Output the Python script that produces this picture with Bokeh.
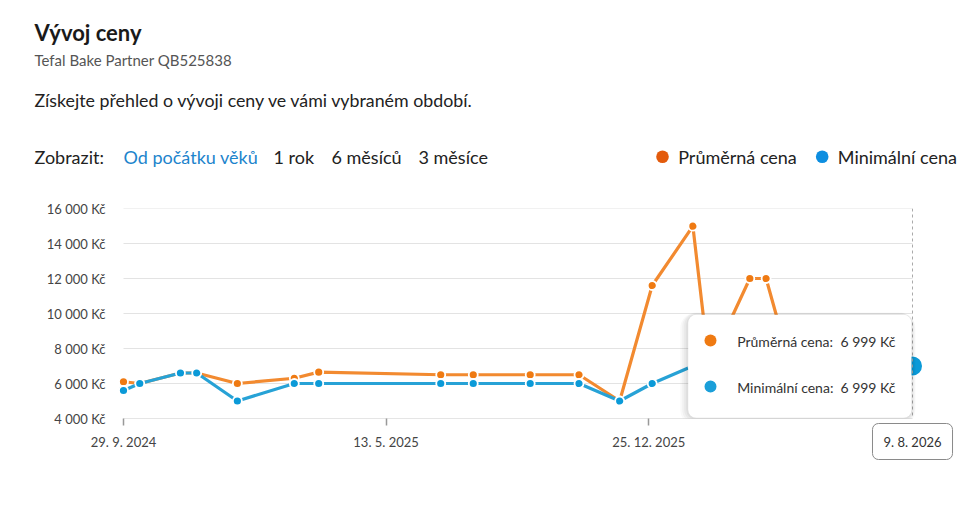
from datetime import timedelta
import pandas as pd
from bokeh.plotting import figure
from bokeh.layouts import column
from bokeh.core.properties import value
from bokeh.models import (Range1d, FixedTicker, CustomJSTickFormatter, Label,
                          BoxAnnotation, Span)
from bokeh.embed import file_html
from bokeh.resources import INLINE

# ---------------- data ----------------
dates = ["2024-09-29", "2024-10-13", "2024-11-17", "2024-12-01", "2025-01-05",
         "2025-02-23", "2025-03-16", "2025-06-29", "2025-07-27", "2025-09-14",
         "2025-10-26", "2025-11-30", "2025-12-28", "2026-02-01", "2026-02-15",
         "2026-03-22", "2026-04-05", "2026-04-26", "2026-08-09"]
avg_price = [6100, 6000, 6600, 6600, 6000, 6300, 6650, 6500, 6500, 6500,
             6500, 5000, 11600, 14990, 7000, 12000, 12000, 7000, 6999]
min_price = [5600, 6000, 6600, 6600, 5000, 6000, 6000, 6000, 6000, 6000,
             6000, 5000, 6000, 7000, 7000, 7000, 7000, 7000, 6999]
y_ticks = [4000, 6000, 8000, 10000, 12000, 14000, 16000]
x_tick_dates = ["2024-09-29", "2025-05-13", "2025-12-25"]

title_text = "Vývoj ceny"
subtitle_text = "Tefal Bake Partner QB525838"
intro_text = "Získejte přehled o vývoji ceny ve vámi vybraném období."
show_label = "Zobrazit:"
period_options = ["Od počátku věků", "1 rok", "6 měsíců", "3 měsíce"]
series_names = ["Průměrná cena", "Minimální cena"]
tooltip_values = ["6 999 Kč", "6 999 Kč"]
tooltip_date = "9. 8. 2026"

FONT = "Lato"
ORANGE_LINE = "#f28a30"
ORANGE_DOT = "#ef7a12"
BLUE_LINE = "#27a2d6"
BLUE_DOT = "#0b9ad8"
TEXT = "#222222"

W = 976
HEAD_H = 200
CHART_H = 330

# ================= header figure (pixel coordinates) =================
h = figure(width=W, height=HEAD_H, output_backend="svg", toolbar_location=None,
           x_range=Range1d(0, W), y_range=Range1d(HEAD_H, 0),
           x_axis_location=None, y_axis_location=None,
           min_border_left=0, min_border_right=0, min_border_top=0, min_border_bottom=0)
h.outline_line_color = None
h.xgrid.visible = False
h.ygrid.visible = False


def htext(t, px, py, size, color=TEXT, style="normal"):
    h.text(x=[px], y=[py], text=[t], text_font=value(FONT), text_font_size=value(f"{size}px"),
           text_color=color, text_font_style=style, text_baseline="alphabetic",
           text_align="left")


ROW_Y = 156
htext(title_text, 34, 32, 22, "#1a1a1a", "bold")
htext(subtitle_text, 34, 59, 15, "#555555")
htext(intro_text, 34, 99.5, 17.8)
htext(show_label, 34, ROW_Y, 18)
opt_x = [123, 273, 331, 418]
opt_c = ["#1d84cc", TEXT, TEXT, TEXT]
for t, px, c in zip(period_options, opt_x, opt_c):
    htext(t, px, ROW_Y, 18, c)

h.scatter(x=[662, 821.7], y=[156.3, 156.3], size=12.6,
          fill_color=["#e35b0c", "#0d8ee0"], line_color=None)
htext(series_names[0], 677.7, ROW_Y, 18)
htext(series_names[1], 837.3, ROW_Y, 18)

# ================= chart figure =================
x = [pd.Timestamp(d).to_pydatetime() for d in dates]
pad = timedelta(days=8.6)
TOP = HEAD_H
FL, FR, FT, FB = 113, 922, 208, 418      # page coordinates of the frame

p = figure(width=W, height=CHART_H, output_backend="svg", toolbar_location=None,
           x_axis_type="datetime",
           x_range=Range1d(x[0] - pad, x[-1] + pad),
           y_range=Range1d(y_ticks[0], y_ticks[-1]),
           min_border_left=FL, min_border_right=W - FR,
           min_border_top=FT - TOP, min_border_bottom=TOP + CHART_H - FB)
p.outline_line_color = None
p.xgrid.visible = False
p.ygrid.visible = False

for f in (h, p):
    if "frame_align" in f.properties():
        f.frame_align = False

p.yaxis.ticker = FixedTicker(ticks=y_ticks)
p.yaxis.formatter = CustomJSTickFormatter(
    code="return tick.toFixed(0).replace(/\\B(?=(\\d{3})+(?!\\d))/g, ' ') + ' Kč';")
p.yaxis.axis_line_color = None
p.yaxis.major_tick_line_color = None
p.yaxis.minor_tick_line_color = None
p.yaxis.major_label_standoff = 2
p.yaxis.major_label_text_font = FONT
p.yaxis.major_label_text_font_size = "13px"
p.yaxis.major_label_text_color = "#444444"

xt = [pd.Timestamp(d).value // 10**6 for d in x_tick_dates]
p.xaxis.ticker = FixedTicker(ticks=xt)
p.xaxis.formatter = CustomJSTickFormatter(
    code="const d = new Date(tick); return d.getUTCDate() + '. ' + (d.getUTCMonth()+1) + '. ' + d.getUTCFullYear();")
p.xaxis.axis_line_color = None
p.xaxis.major_tick_in = 0
p.xaxis.major_tick_out = 7
p.xaxis.major_tick_line_color = "#999999"
p.xaxis.major_tick_line_width = 1.5
p.xaxis.minor_tick_line_color = None
p.xaxis.major_label_standoff = 8
p.xaxis.major_label_text_font = FONT
p.xaxis.major_label_text_font_size = "13px"
p.xaxis.major_label_text_color = "#444444"

grid_colors = ["#cccccc"] + ["#e3e3e3"] * (len(y_ticks) - 1)
p.segment(x0=[x[0]] * len(y_ticks), x1=[x[-1]] * len(y_ticks), y0=y_ticks, y1=y_ticks,
          line_color=grid_colors, line_width=1)

p.add_layout(Span(location=x[-1], dimension="height", line_color="#aaaaaa",
                  line_dash="3 3", line_width=1))

p.line(x, avg_price, line_color=ORANGE_LINE, line_width=3.2, line_join="round")
p.scatter(x, avg_price, size=9, fill_color=ORANGE_DOT, line_color="white", line_width=1.8)
p.line(x, min_price, line_color=BLUE_LINE, line_width=3.2, line_join="round")
p.scatter(x, min_price, size=9, fill_color=BLUE_DOT, line_color="white", line_width=1.8)
p.scatter([x[-1]], [min_price[-1]], size=19, fill_color=BLUE_DOT, line_color=None)


def sx(px):
    return px - FL


def sy(py):
    return FB - py


def box(l, r, t, b, fill, alpha=1.0, radius=0):
    p.add_layout(BoxAnnotation(left=sx(l), right=sx(r), top=sy(t), bottom=sy(b),
                               left_units="screen", right_units="screen",
                               top_units="screen", bottom_units="screen",
                               fill_color=fill, fill_alpha=alpha, line_color=None,
                               border_radius=int(round(radius))))


def label(t, px, py, size, color="#333333", align="left"):
    p.add_layout(Label(x=sx(px), y=sy(py), x_units="screen", y_units="screen", text=t,
                       text_font=FONT, text_font_size=f"{size}px", text_color=color,
                       text_align=align, text_baseline="middle"))


# tooltip with soft shadow
for i, a in enumerate([0.025, 0.03, 0.035, 0.04]):
    g = 8 - 2 * i
    box(687.7 - g, 911 + g * 0.5, 314.3 - g * 0.3, 417.3 + g, "#000000", alpha=a, radius=8 + g)
box(687.7, 911, 314.3, 417.3, "white", radius=8)
box(704, 716, 334, 346, ORANGE_DOT, radius=6)
box(704, 716, 380, 392, "#1b9fd9", radius=6)
label(series_names[0] + ":", 736.7, 340.5, 14)
label(series_names[1] + ":", 736.7, 386.5, 14)
label(tooltip_values[0], 895, 340.5, 14, align="right")
label(tooltip_values[1], 895, 386.5, 14, align="right")

# x-value box below the axis (data units so it sits by the scale)
px_per_val = (FB - FT) / (y_ticks[-1] - y_ticks[0])
date_y = y_ticks[0] - (441 - FB) / px_per_val
p.add_layout(Label(x=x[-1], y=date_y, text=tooltip_date, text_font=FONT,
                   text_font_size="13px", text_color="#333333",
                   text_align="center", text_baseline="middle",
                   background_fill_color="white", border_line_color="#8a8a8a",
                   border_radius=6, padding=(11, 10)), "below")

open("out.html", "w").write(file_html(column(h, p), INLINE))
